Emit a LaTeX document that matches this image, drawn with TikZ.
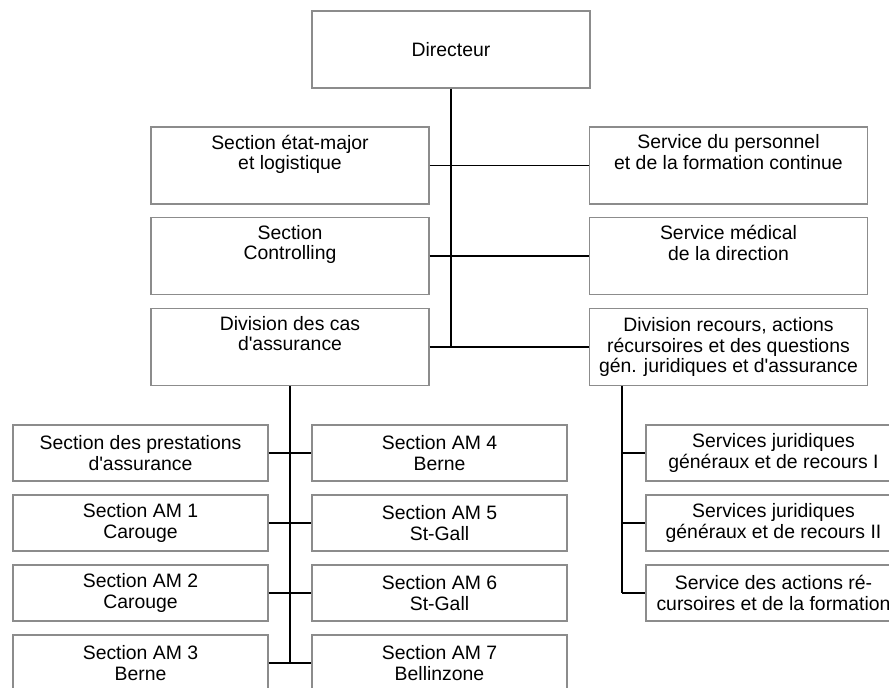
\documentclass[tikz,border=0pt]{standalone}
\usepackage{fontspec}
\setmainfont{Liberation Sans}
\usepackage{tikz}
\usetikzlibrary{calc,positioning}

\begin{document}
\begin{tikzpicture}[
  x=1pt,y=-1pt,
  unit/.style={draw=black!45,line width=1.3pt,fill=white,align=center,inner sep=0pt,
    font=\fontsize{19.4}{20.5}\selectfont},
  big/.style={unit,minimum width=278pt,minimum height=77pt},
  small/.style={unit,minimum width=255pt,minimum height=56pt},
  line/.style={draw=black,line width=1.6pt}
]
\useasboundingbox (0,0) rectangle (889,688);
\clip (0,0) rectangle (889,688);

% direction
\node[big] (dir) at (451,49.5) {Directeur};
\node[big] (etat) at (290,165.5) {Section état-major\\et logistique\\\strut};
\node[big] (pers) at (728.5,165.5) {Service du personnel\\et de la formation continue\\\strut};
\node[big] (ctrl) at (290,256) {Section\\Controlling\\\strut};
\node[big] (med) at (728.5,256) {Service médical\\de la direction\\\strut};
\node[big] (cas) at (290,347) {Division des cas\\d\textquotesingle assurance\\\strut};
\node[big] (rec) at (728.5,347) {Division recours, actions\\récursoires et des questions\\gén. juridiques et d\textquotesingle assurance};

% sections AM
\node[small] (prest) at (140.5,453) {Section des prestations\\d\textquotesingle assurance};
\node[small] (am1) at (140.5,523) {Section AM 1\\Carouge};
\node[small] (am2) at (140.5,593) {Section AM 2\\Carouge};
\node[small] (am3) at (140.5,663) {Section AM 3\\Berne};
\node[small] (am4) at (439.5,453) {Section AM 4\\Berne};
\node[small] (am5) at (439.5,523) {Section AM 5\\St-Gall};
\node[small] (am6) at (439.5,593) {Section AM 6\\St-Gall};
\node[small] (am7) at (439.5,663) {Section AM 7\\Bellinzone};

% services juridiques
\node[small] (jur1) at (773.5,453) {Services juridiques\\généraux et de recours I};
\node[small] (jur2) at (773.5,523) {Services juridiques\\généraux et de recours II};
\node[small] (jur3) at (773.5,593) {Service des actions ré-\\cursoires et de la formation};

\coordinate (rt) at ([xshift=33pt]rec.south west);

\draw[line] (dir.south) -- (dir.south |- cas.east);
\draw[line] (etat.east) -- (pers.west);
\draw[line] (ctrl.east) -- (med.west);
\draw[line] (cas.east) -- (rec.west);

\draw[line] (cas.south) -- (cas.south |- am3.east);
\draw[line] (prest.east) -- (am4.west);
\draw[line] (am1.east) -- (am5.west);
\draw[line] (am2.east) -- (am6.west);
\draw[line] (am3.east) -- (am7.west);

\draw[line] (rt) -- (rt |- jur3.west);
\draw[line] (rt |- jur1.west) -- (jur1.west);
\draw[line] (rt |- jur2.west) -- (jur2.west);
\draw[line] (rt |- jur3.west) -- (jur3.west);
\end{tikzpicture}
\end{document}
